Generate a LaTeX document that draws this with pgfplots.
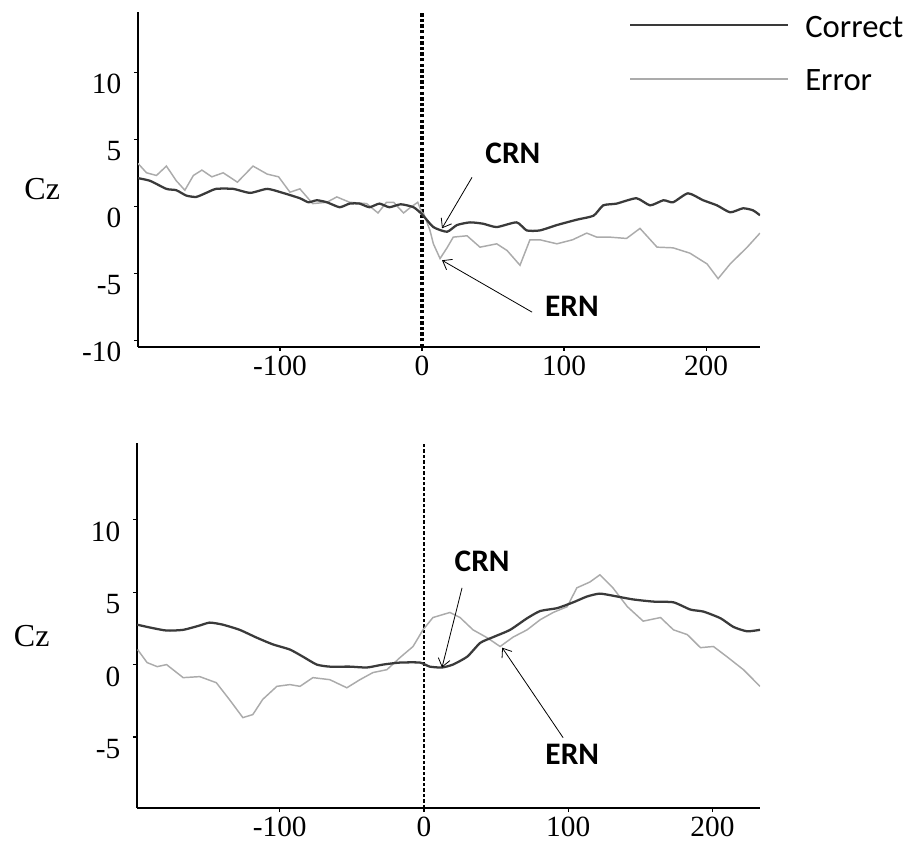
\documentclass[border=0pt]{standalone}
\usepackage{pgfplots}
\pgfplotsset{compat=1.18}
\usepackage{fontspec}
\setmainfont{Liberation Serif}
\newfontfamily\calib{Carlito}
\usetikzlibrary{arrows.meta}

\definecolor{corr}{HTML}{3A3A3A}
\definecolor{err}{HTML}{ABABAB}

\tikzset{
  correct/.style={corr, line width=1.7pt, smooth, tension=0.35},
  error/.style={err, line width=1.1pt},
  tag/.style={font=\calib\bfseries\fontsize{23.5}{25}\selectfont},
  pointer/.style={black, line width=0.6pt, -{Straight Barb[length=6pt,width=9pt]}},
}
\pgfplotsset{
  erp/.style={
    scale only axis,
    axis x line=bottom, axis y line=left,
    axis line style={-, black, line width=1.1pt},
    tick align=outside, major tick length=3pt,
    tick style={black, line width=0.8pt},
    xtick={-100,0,100,200},
    tick label style={font=\fontsize{22}{24}\selectfont},
    /pgf/number format/assume math mode=true,
    yticklabel style={yshift=-9pt, xshift=-6pt},
    xticklabel style={yshift=0pt},
    ylabel={Cz},
    ylabel style={rotate=-90, anchor=center, font=\fontsize{24}{26}\selectfont},
  },
}

\begin{document}
\begin{tikzpicture}
\path[use as bounding box] (0,0) rectangle (681.75pt,633.75pt);

% ---------- upper panel ----------
\begin{axis}[erp,
  at={(103.5pt,373.5pt)}, anchor=south west,
  width=466.5pt, height=251.25pt,
  xmin=-200, xmax=238, ymin=-10.5, ymax=14.5,
  ytick={-10,-5,0,5,10},
  ylabel style={at={(rel axis cs:-0.154,0.472)}},
]
\addplot[black, line width=2.6pt, dash pattern=on 2.6pt off 1.6pt] coordinates {(0,-10.5) (0,14.5)};
\addplot[error] coordinates {
(-200,3.2)(-194,2.5)(-187,2.3)(-180,3.0)(-173,1.9)(-167,1.2)(-161,2.3)(-155,2.7)
(-148,2.2)(-140,2.5)(-130,1.8)(-119,3.0)(-109,2.4)(-101,2.2)(-93,1.05)(-86,1.3)
(-77,0.2)(-67,0.3)(-60,0.7)(-51,0.3)(-39,0.2)(-31,-0.5)(-25,0.3)(-20,0.3)
(-13,-0.5)(-8,-0.07)(-3,0.3)(0,-0.5)(1,-0.5)(5.6,-1.8)(8,-2.8)(12.7,-3.9)
(17.6,-3.1)(22,-2.3)(31.7,-2.2)(40.8,-3.05)(52.6,-2.8)(59.9,-3.3)(69,-4.4)
(76,-2.5)(83,-2.5)(95,-2.8)(106,-2.5)(116,-2.0)(123,-2.3)(132,-2.3)(144,-2.4)
(153.5,-1.65)(165.5,-3.05)(176.8,-3.1)(188.7,-3.5)(200.7,-4.3)(208.5,-5.4)
(217,-4.3)(229,-3.05)(238,-2.0)};
\addplot[correct] coordinates {
(-200,2.1)(-191.5,1.9)(-180,1.3)(-173,1.2)(-166,0.8)(-159,0.7)(-152,1.0)(-145,1.3)
(-133,1.3)(-121,1.0)(-109,1.3)(-98,1.0)(-86,0.6)(-80,0.3)(-74,0.45)(-67,0.3)
(-58,-0.07)(-51,0.2)(-44,0.2)(-37,-0.07)(-30,0.2)(-23,-0.07)(-15,0.15)(-6,-0.07)
(0,-0.6)(8,-1.55)(17.6,-1.9)(24.6,-1.4)(33.8,-1.2)(43,-1.3)(52.6,-1.55)(66.6,-1.2)
(73.7,-1.8)(83,-1.8)(95,-1.4)(109,-1.0)(120.8,-0.7)(127.6,0.07)(137,0.2)(151,0.6)
(160.6,0.07)(170,0.45)(176.8,0.3)(187.3,0.97)(198,0.45)(207.7,0.07)(217,-0.45)
(226,-0.15)(233,-0.3)(238,-0.67)};
\node[tag] at (axis cs:64,3.96) {CRN};
\draw[pointer] (axis cs:35.2,2.16) -- (axis cs:14.1,-1.64);
\node[tag] at (axis cs:105.6,-7.5) {ERN};
\draw[pointer] (axis cs:77.5,-7.9) -- (axis cs:14.1,-4.03);
\end{axis}

% ---------- lower panel ----------
\begin{axis}[erp,
  at={(102.75pt,27.75pt)}, anchor=south west,
  width=467.25pt, height=273.75pt,
  xmin=-199, xmax=233, ymin=-9.9, ymax=15.3,
  ytick={-5,0,5,10},
  ylabel style={at={(rel axis cs:-0.169,0.471)}},
]
\addplot[black, line width=0.9pt, dash pattern=on 2.6pt off 1.5pt] coordinates {(0,-9.9) (0,15.3)};
\addplot[error] coordinates {
(-198.6,1.04)(-192,0.14)(-185,-0.14)(-178.5,0)(-167,-0.9)(-155.5,-0.83)(-144,-1.25)
(-135,-2.4)(-125.6,-3.66)(-118.7,-3.45)(-111.8,-2.4)(-102,-1.5)(-93,-1.38)(-86,-1.5)
(-77,-0.9)(-65.3,-1.04)(-53.5,-1.6)(-44.4,-1.04)(-35.4,-0.55)(-25.7,-0.35)
(-16.7,0.48)(-7.6,1.25)(-0.7,2.4)(6.2,3.25)(18,3.6)(25,3.25)(34,2.4)(43.7,1.86)
(52.8,1.25)(61.8,1.9)(71.5,2.4)(80.6,3.1)(89.6,3.6)(99.3,4.0)(106,5.3)(115,5.7)
(122,6.2)(131,5.3)(141,4.0)(152,3.0)(164,3.25)(173,2.4)(182.6,2.07)(191.7,1.17)
(200.7,1.25)(210,0.55)(221.5,-0.35)(233,-1.5)};
\addplot[correct] coordinates {
(-199,2.76)(-190,2.56)(-178.5,2.35)(-167,2.4)(-155.5,2.7)(-148.6,2.9)(-139.6,2.76)
(-127.8,2.4)(-116,1.86)(-104.9,1.4)(-93,1.04)(-84,0.55)(-74.3,0)(-65.3,-0.14)
(-51.4,-0.14)(-39.6,-0.2)(-28.5,0)(-16.7,0.14)(-2.8,0.14)(4,-0.14)(12.5,-0.2)
(20,0)(30,0.55)(39,1.5)(48,1.9)(59.7,2.4)(71.5,3.2)(80.6,3.7)(92.4,3.9)(103.5,4.3)
(113,4.7)(122,4.9)(134,4.7)(145,4.5)(159,4.35)(173,4.3)(184.7,3.8)(193.8,3.66)
(205.6,3.2)(214.6,2.6)(224,2.3)(233,2.4)};
\node[tag] at (axis cs:40.3,7.1) {CRN};
\draw[pointer] (axis cs:26.4,5.3) -- (axis cs:12.5,-0.2);
\node[tag] at (axis cs:102.8,-6.2) {ERN};
\draw[pointer] (axis cs:96.5,-5.05) -- (axis cs:54.2,1.17);
\end{axis}

% ---------- key ----------
\draw[corr, line width=1.5pt] (472.5pt,615pt) -- (591pt,615pt);
\node[anchor=west, font=\calib\fontsize{24.5}{26}\selectfont, inner sep=0pt] at (603.75pt,613.5pt) {Correct};
\draw[err, line width=1.2pt] (472.5pt,574.5pt) -- (591pt,574.5pt);
\node[anchor=west, font=\calib\fontsize{24.5}{26}\selectfont, inner sep=0pt] at (603.75pt,573.75pt) {Error};
\end{tikzpicture}
\end{document}
